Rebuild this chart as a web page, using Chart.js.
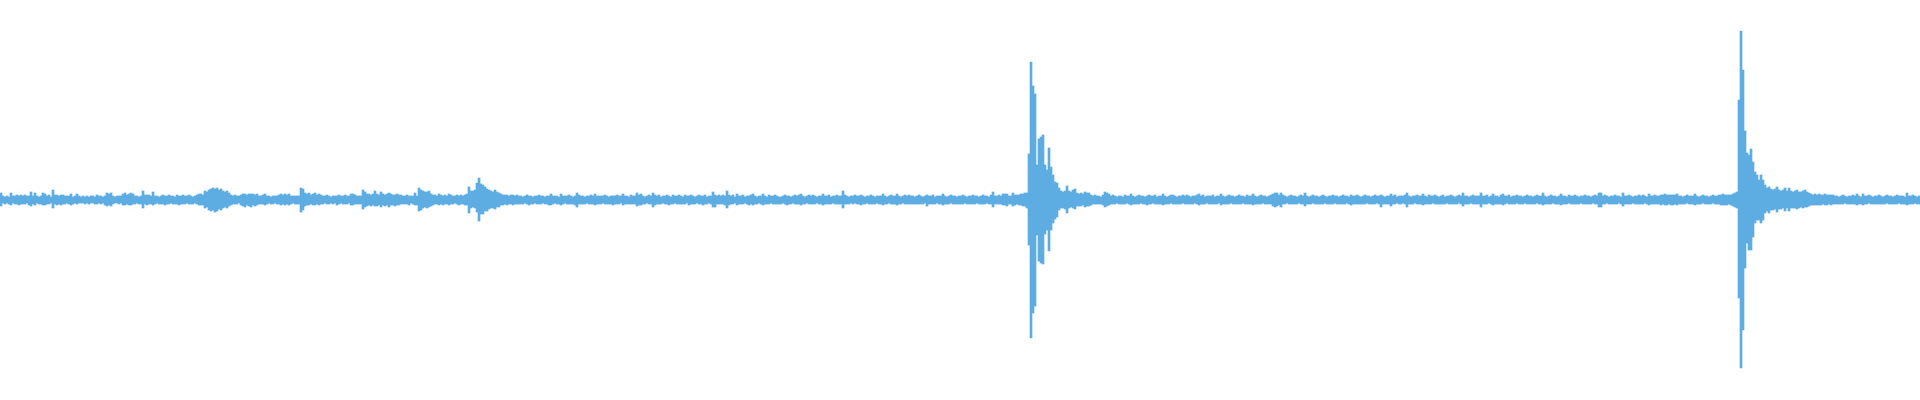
<!DOCTYPE html>
<html>
<head>
<meta charset="utf-8">
<title>Waveform</title>
<script src="https://cdn.jsdelivr.net/npm/chart.js@4/dist/chart.umd.min.js"></script>
<style>
  html, body { margin: 0; padding: 0; background: #ffffff; }
  #wrap { width: 1920px; height: 400px; }
</style>
</head>
<body>
<div id="wrap"><canvas id="waveChart"></canvas></div>
<script>
// peak envelope of the waveform, one value per 2px column pair (960 bins)
// amplitude units: 1 unit = 1px, full scale -200..200
const peakHigh = [
  7,4,3,4,3,7,4,4,5,4,5,4,5,4,4,8,4,7,4,3,
  4,7,6,4,5,3,10,5,5,4,5,5,4,4,4,6,3,4,6,4,
  3,4,3,4,3,4,4,3,5,4,4,3,4,7,6,7,4,3,4,4,
  4,6,7,5,6,7,6,4,4,3,4,9,5,5,5,4,8,4,4,3,
  4,5,4,4,5,4,4,3,5,4,4,5,4,4,5,4,3,4,5,6,
  6,5,9,8,10,11,12,11,12,10,11,9,8,9,7,5,4,5,4,4,
  5,6,6,5,6,6,6,5,6,4,4,5,6,4,4,3,4,4,4,5,
  6,5,6,5,6,4,4,4,4,4,12,11,7,6,7,5,6,7,5,6,
  5,4,4,5,4,3,4,4,4,5,4,4,5,4,4,6,6,5,4,4,
  4,10,8,6,6,5,6,9,6,5,8,6,5,6,7,6,5,5,6,5,
  5,4,4,5,4,4,4,7,4,12,10,9,8,8,9,6,5,5,4,6,
  5,4,5,4,6,5,4,4,5,4,5,4,5,6,13,9,9,10,17,22,
  16,15,13,11,10,9,8,10,8,7,6,5,5,5,4,5,5,4,5,4,
  4,3,4,5,4,4,3,4,4,5,4,4,3,4,4,6,4,4,4,3,
  6,4,4,4,5,4,3,4,7,5,4,4,3,4,4,5,4,6,4,4,
  4,4,5,4,3,4,4,4,5,4,4,6,4,4,3,5,4,4,7,5,
  6,4,3,4,5,4,7,5,4,5,3,4,4,5,4,3,5,4,4,5,
  4,3,5,4,4,5,4,3,4,5,4,4,5,3,4,4,8,5,4,5,
  4,5,4,9,5,4,5,3,6,4,4,5,3,4,4,5,6,4,3,4,
  4,6,4,3,5,4,4,5,4,3,3,4,5,4,4,3,4,5,4,5,
  6,4,3,4,5,4,5,4,3,4,4,6,4,4,5,3,4,4,5,4,
  4,9,5,4,3,4,4,5,4,4,5,4,3,4,4,5,4,3,4,4,
  4,6,4,3,4,5,4,4,6,4,3,4,5,4,5,4,4,3,4,5,
  4,3,4,5,4,4,5,3,4,4,4,6,4,3,4,5,4,4,3,4,
  4,5,4,3,4,4,5,4,4,3,4,5,4,4,3,5,8,4,4,5,
  4,6,6,6,4,4,7,5,5,5,6,6,7,7,46,138,114,106,35,61,
  63,65,35,30,52,33,25,18,17,12,9,8,9,14,9,8,10,11,7,6,
  7,6,8,7,7,5,4,5,4,4,3,5,8,7,6,4,5,4,3,4,
  4,3,5,4,4,6,4,3,4,5,4,4,3,4,5,4,4,5,3,4,
  4,6,4,3,4,5,5,4,3,4,4,5,4,5,4,3,4,4,5,6,
  4,5,3,4,4,4,5,3,4,4,6,4,3,4,5,4,4,3,4,5,
  4,4,3,5,4,4,6,4,3,4,5,4,4,3,4,5,6,7,7,5,
  7,5,4,3,4,5,4,4,3,4,5,4,7,4,3,4,5,4,4,3,
  4,5,4,3,4,4,5,4,4,3,4,5,4,4,3,5,4,4,5,4,
  3,4,5,4,4,3,4,5,4,4,5,4,3,4,4,6,4,5,3,4,
  4,4,5,7,4,3,4,4,5,4,4,6,4,3,5,4,4,5,4,3,
  4,5,3,4,4,5,4,3,4,5,4,7,4,4,3,4,5,4,4,4,
  7,4,4,5,3,4,6,4,4,3,5,6,4,4,5,3,4,4,5,4,
  4,3,4,5,4,4,3,4,5,4,4,7,4,3,4,5,4,4,3,4,
  6,4,4,3,5,4,4,5,4,3,4,4,5,4,4,3,4,5,4,7,
  7,4,5,4,3,4,4,5,4,4,3,7,4,4,5,4,3,4,4,5,
  4,5,4,3,6,4,4,5,4,4,5,5,6,5,5,5,5,5,6,4,
  4,3,4,5,4,4,4,6,4,3,4,5,4,4,3,4,5,4,4,5,
  5,6,5,5,5,5,6,7,8,100,169,130,69,47,45,51,38,28,25,20,
  25,20,15,12,13,11,10,11,13,10,9,10,12,9,12,9,8,9,10,8,
  8,9,10,8,7,6,5,6,5,6,5,5,6,5,5,5,5,4,4,3,
  4,5,4,3,4,4,5,4,6,4,3,6,4,4,5,4,3,4,4,5,
  4,3,4,5,4,4,3,4,5,4,4,4,3,7,4,4,5,4,3,4
];

const peakLow = [
  6,3,4,3,4,5,3,4,4,5,4,4,4,3,5,6,4,5,3,4,
  4,5,5,4,4,3,8,4,5,4,5,4,4,3,4,5,4,3,4,3,
  3,3,4,3,4,3,3,4,4,3,4,3,5,6,5,6,4,3,3,4,
  3,5,5,4,5,5,4,4,3,4,4,8,4,5,4,4,5,4,3,4,
  4,4,5,4,4,3,4,4,4,5,4,4,4,3,4,4,4,3,4,5,
  5,5,8,7,10,11,10,12,11,9,10,8,7,8,6,5,4,4,4,3,
  5,6,7,5,6,7,5,6,5,4,4,4,5,4,3,4,4,3,4,4,
  5,4,5,4,5,4,3,4,4,4,12,10,6,5,5,4,5,5,4,5,
  4,4,3,4,4,3,4,3,5,4,3,4,4,4,3,5,5,4,4,4,
  4,9,7,6,5,6,5,6,6,5,7,5,6,5,7,5,5,6,5,5,
  4,4,4,4,5,3,4,5,5,11,10,8,7,8,7,6,5,4,4,5,
  4,5,4,4,5,4,4,3,4,5,4,4,5,5,13,8,7,8,12,21,
  14,14,11,11,9,8,8,9,7,7,5,5,4,5,4,4,5,4,4,4,
  4,4,3,4,5,4,4,3,4,4,4,3,4,4,5,5,4,3,4,4,
  5,4,3,4,4,4,4,5,7,4,4,4,4,3,4,4,4,5,4,4,
  4,3,4,4,4,4,5,4,4,4,3,5,4,4,4,4,4,4,6,5,
  5,4,4,3,4,4,7,5,4,4,4,3,4,4,5,4,4,3,4,4,
  4,4,4,3,5,4,4,4,3,4,4,5,4,4,3,4,7,7,4,4,
  4,4,5,8,5,4,4,3,5,4,4,4,3,4,5,4,5,4,4,3,
  4,5,4,4,4,3,4,4,4,4,4,3,4,5,4,4,3,4,4,4,
  5,4,4,3,4,4,4,4,3,4,4,5,4,4,4,4,3,4,4,4,
  4,8,4,4,4,3,4,3,4,4,5,4,4,3,4,4,4,4,3,4,
  4,5,4,4,3,4,4,4,5,4,4,3,4,4,4,4,4,4,4,4,
  4,4,3,6,4,4,4,4,3,4,4,5,4,4,4,3,4,4,4,4,
  4,4,3,4,4,4,4,4,3,4,4,4,4,3,4,4,7,4,4,4,
  4,5,5,6,4,4,6,5,4,5,5,6,6,8,45,138,113,106,35,61,
  63,64,34,30,51,30,23,19,17,10,8,8,9,13,8,7,8,9,6,6,
  6,5,7,6,6,5,4,4,4,4,4,5,7,6,5,4,4,4,3,4,
  4,4,4,3,4,5,4,4,4,4,3,4,4,5,4,4,3,4,4,4,
  4,5,4,4,4,3,4,4,4,4,4,3,4,4,4,4,4,3,4,5,
  4,4,4,3,4,4,4,4,4,3,5,4,4,4,4,3,4,4,4,4,
  4,3,4,4,4,4,5,4,4,4,4,3,4,4,4,4,6,7,6,5,
  7,4,4,3,4,4,4,4,4,3,4,4,6,4,4,4,3,4,4,4,
  4,4,3,4,4,4,4,3,4,4,4,4,4,3,4,5,4,4,4,4,
  4,4,4,3,4,4,4,4,3,4,7,4,4,4,4,6,4,4,3,4,
  4,3,4,7,4,4,4,3,4,4,4,5,4,4,4,4,3,4,4,4,
  4,4,4,3,4,4,4,4,4,3,4,6,4,4,4,3,4,4,4,4,
  7,4,4,4,3,4,5,4,4,4,4,5,4,3,4,4,4,4,3,4,
  4,4,3,4,4,4,4,4,3,4,4,5,4,4,4,4,3,4,4,4,
  5,4,4,4,3,4,4,4,4,4,3,4,4,4,4,4,3,4,4,7,
  7,4,4,3,4,4,4,4,4,3,4,6,4,4,4,4,3,4,4,4,
  4,4,3,4,5,4,4,4,4,4,5,4,5,5,4,5,5,4,5,4,
  4,4,4,3,4,4,4,5,4,4,4,3,4,4,4,4,3,4,4,4,
  5,5,5,5,4,5,6,7,8,98,168,130,68,43,50,50,37,23,20,20,
  23,20,13,11,13,10,10,9,12,9,9,8,11,8,11,8,8,8,9,8,
  7,8,7,7,6,5,5,5,5,5,5,4,5,5,4,5,4,4,4,4,
  4,4,3,4,4,4,4,4,5,4,4,5,4,4,3,4,4,4,4,4,
  4,4,4,3,4,4,4,4,4,3,4,4,4,5,4,4,4,3,4,4
];

const waveColor = '#5dade2';

// bin labels are just column indices, the axis is hidden
const binLabels = peakHigh.map((v, i) => i);
const binRanges = peakHigh.map((hi, i) => [-peakLow[i], hi]);

const waveChart = new Chart(document.getElementById('waveChart').getContext('2d'), {
  type: 'bar',
  data: {
    labels: binLabels,
    datasets: [{
      data: binRanges,
      backgroundColor: waveColor,
      borderWidth: 0,
      borderSkipped: false,
      categoryPercentage: 1.0,
      barPercentage: 1.0
    }]
  },
  options: {
    responsive: true,
    maintainAspectRatio: false,
    animation: false,
    layout: { padding: 0 },
    plugins: { legend: { display: false }, tooltip: { enabled: false } },
    scales: {
      x: { display: false, offset: true, grid: { display: false } },
      y: { display: false, min: -200, max: 200, grid: { display: false } }
    }
  }
});
</script>
</body>
</html>
